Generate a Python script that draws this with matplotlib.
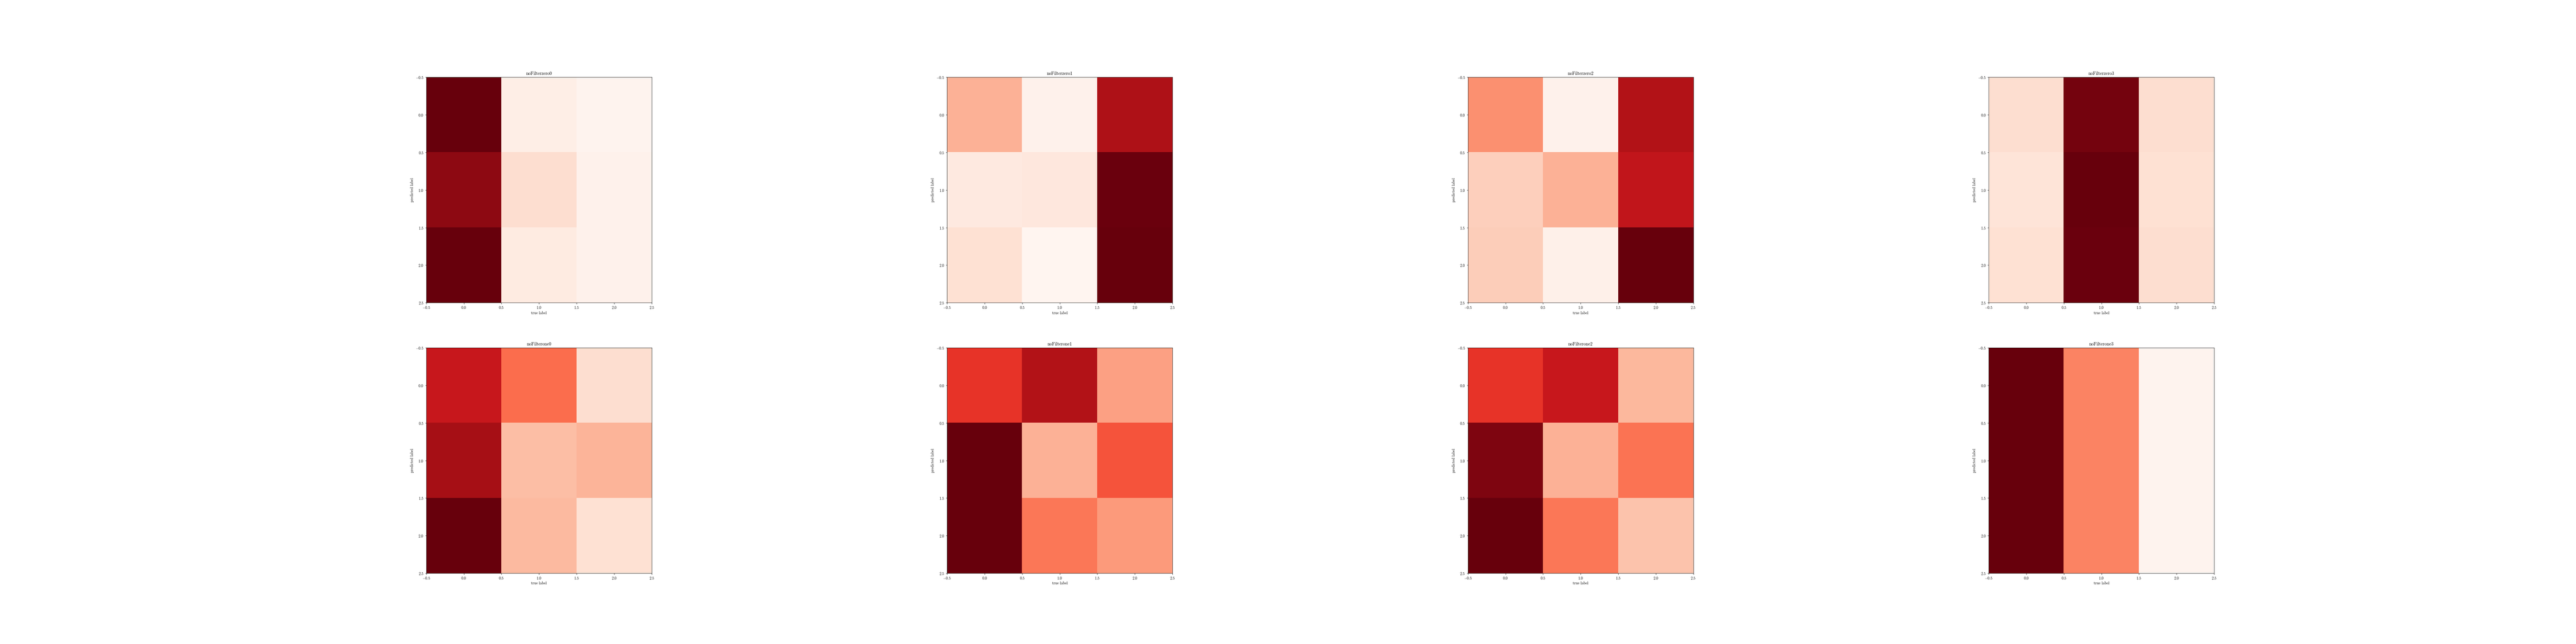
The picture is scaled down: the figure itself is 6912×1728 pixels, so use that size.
import matplotlib
matplotlib.use("Agg")
import matplotlib.pyplot as plt
import numpy as np

plt.rcParams['font.family'] = 'serif'
plt.rcParams['font.serif'] = ['cmr10', 'DejaVu Serif']
plt.rcParams['mathtext.fontset'] = 'cm'
plt.rcParams['axes.formatter.use_mathtext'] = True

titles = ["noFilterzero0", "noFilterzero1", "noFilterzero2", "noFilterzero3",
          "noFilterone0", "noFilterone1", "noFilterone2", "noFilterone3"]

m_zero0 = [[1.00, 0.04, 0.01],
           [0.92, 0.13, 0.02],
           [1.00, 0.06, 0.02]]
m_zero1 = [[0.28, 0.02, 0.84],
           [0.07, 0.08, 0.99],
           [0.12, 0.00, 1.00]]
m_zero2 = [[0.38, 0.02, 0.83],
           [0.18, 0.28, 0.78],
           [0.19, 0.03, 1.00]]
m_zero3 = [[0.13, 0.97, 0.13],
           [0.10, 1.00, 0.12],
           [0.12, 0.99, 0.13]]
m_one0 = [[0.76, 0.49, 0.13],
          [0.87, 0.24, 0.27],
          [1.00, 0.25, 0.12]]
m_one1 = [[0.65, 0.83, 0.33],
          [1.00, 0.28, 0.56],
          [1.00, 0.46, 0.35]]
m_one2 = [[0.65, 0.76, 0.26],
          [0.95, 0.28, 0.47],
          [1.00, 0.46, 0.22]]
m_one3 = [[1.00, 0.42, 0.01],
          [1.00, 0.42, 0.01],
          [1.00, 0.42, 0.01]]

matrices = [m_zero0, m_zero1, m_zero2, m_zero3, m_one0, m_one1, m_one2, m_one3]

fig, axes = plt.subplots(2, 4, figsize=(96, 24), dpi=72)
for ax, title, mat in zip(axes.flat, titles, matrices):
    ax.imshow(np.array(mat), cmap='Reds', vmin=0, vmax=1)
    ax.set_title(title)
    ax.set_xlabel("true label")
    ax.set_ylabel("predicted label")
    ax.set_xticks([-0.5, 0.0, 0.5, 1.0, 1.5, 2.0, 2.5])
    ax.set_yticks([-0.5, 0.0, 0.5, 1.0, 1.5, 2.0, 2.5])

fig.savefig("out.png", dpi=72)
